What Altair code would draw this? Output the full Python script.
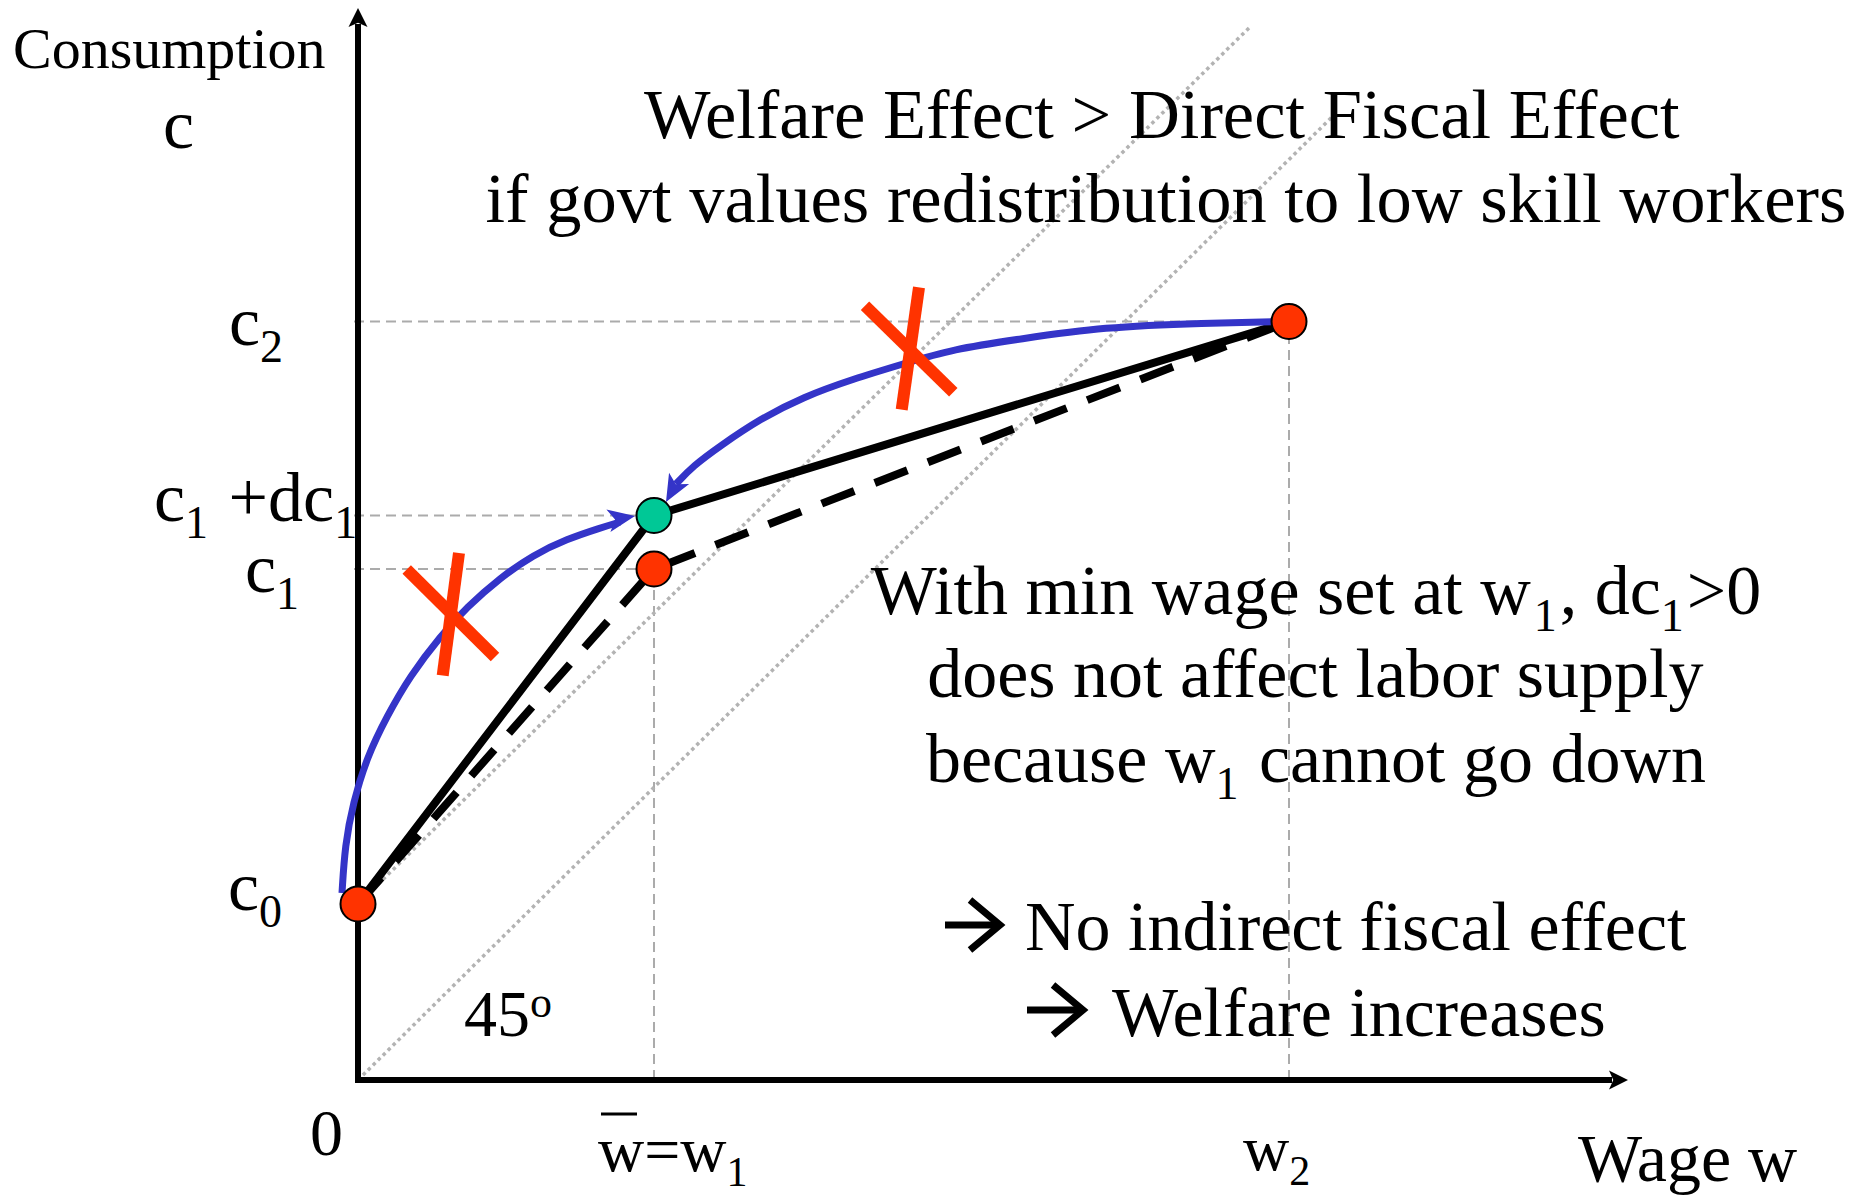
import math
import altair as alt
import pandas as pd

# ---------------- values (units: px from the origin) ----------------
W_NAMES = ["0", "w1", "w2"]
W_VALUES = [0, 296, 931]
C_NAMES = ["c0", "c1", "c1+dc1", "c2"]
C_VALUES = [176, 511, 564.5, 758.5]
W0, W1, W2 = W_VALUES
C0, C1, C1DC, C2 = C_VALUES

Y_AXIS_TIP = 1072
X_AXIS_TIP = 1270

# budget sets: solid (with dc1) and dashed (original)
SOLID_C = [C0, C1DC, C2]
DASHED_C = [C0, C1, C2]

# 45-degree reference lines (start -> end)
DIAG_START_W = [0, 0]
DIAG_START_C = [0, C0]
DIAG_END_W = [977, 893]
DIAG_END_C = [966, 1054]

# blue arrows (curves)
CURVE1_W = [-16, -13, -5, 9, 29, 52, 82, 109, 142, 175, 209, 242, 262]
CURVE1_C = [187, 235, 277, 323, 364, 404, 443.5, 473, 502, 525, 541, 552, 558]
CURVE2_W = [931, 846, 745, 662, 595, 545, 495, 445, 402, 362, 335, 318]
CURVE2_C = [758.5, 757, 753, 741, 731, 716, 701, 683, 661, 634, 614, 596]
ARROW_TIP_W = [277, 308]
ARROW_TIP_C = [564, 578]
ARROW_ANGLE = [350, 119]

# red crosses: two strokes each
CROSS_W1 = [48.7, 101, 507, 561]
CROSS_C1 = [510.5, 527, 774.3, 792.7]
CROSS_W2 = [137, 84.7, 595.3, 543.7]
CROSS_C2 = [423, 404.5, 687.7, 670.3]

# bullet arrows in front of the conclusions (shaft start, tip, centre line)
BULLET_START = [587, 669]
BULLET_TIP = [642, 725]
BULLET_MID = [155, 70]

RED = "#ff3300"
GREEN = "#00c896"
BLUE = "#3434c8"
GUIDE = "#ababab"
FONT = "Liberation Serif"

# ---------------- text layout (Times metrics) ----------------
TIMES = {' ': 250, ',': 250, '>': 564, '=': 564, '+': 564,
         '0': 500, '1': 500, '2': 500, '4': 500, '5': 500,
         'C': 667, 'D': 722, 'E': 611, 'F': 556, 'N': 722, 'W': 944,
         'a': 444, 'b': 500, 'c': 444, 'd': 500, 'e': 444, 'f': 333, 'g': 500,
         'h': 500, 'i': 278, 'k': 500, 'l': 278, 'm': 778, 'n': 500, 'o': 500,
         'p': 500, 'r': 333, 's': 389, 't': 278, 'u': 500, 'v': 500, 'w': 722,
         'y': 500}
SUB_GAP = 3


def width(s, size):
    return sum(TIMES.get(ch, 500) for ch in s) * size / 1000.0


rows = []


def put(txt, x, y, size):
    lead = len(txt) - len(txt.lstrip(" "))
    rows.append({"x": x + width(" " * lead, size), "y": y, "text": txt.strip(), "size": size})


def piece_width(txt, kind, main, sub):
    return width(txt, main) if kind == "n" else width(txt, sub) + SUB_GAP


def run(pieces, x0, base, main=70, sub=46, drop=17, rise=19):
    x = x0
    for txt, kind in pieces:
        if kind == "n":
            size, y = main, base
        elif kind == "s":
            size, y = sub, base - drop
        else:
            size, y = sub, base + rise
        put(txt, x, y, size)
        x += piece_width(txt, kind, main, sub)


def centered(pieces, cx, base, main=70, sub=46):
    total = sum(piece_width(t, k, main, sub) for t, k in pieces)
    run(pieces, cx - total / 2, base, main=main, sub=sub)


put("Consumption", -345, 1012, 58)
put("c", -195, 932, 70)
centered([("Welfare Effect > Direct Fiscal Effect", "n")], 808, 942, main=70.5)
centered([("if govt values redistribution to low skill workers", "n")], 808, 858.5, main=70.5)
centered([("With min wage set at w", "n"), ("1", "s"), (", dc", "n"), ("1", "s"), (">0", "n")], 958, 466)
centered([("does not affect labor supply", "n")], 958, 383)
centered([("because w", "n"), ("1", "s"), (" cannot go down", "n")], 958, 298)
put("No indirect fiscal effect", 667, 130, 70)
put("Welfare increases", 754, 44, 70)
run([("45", "n"), ("o", "p")], 106, 44, main=66, sub=44, rise=19)
put("0", -48, -75, 66)
run([("w=w", "n"), ("1", "s")], 240, -91, main=64, sub=42, drop=15)
run([("w", "n"), ("2", "s")], 885, -90, main=64, sub=42, drop=15)
put("Wage w", 1220, -101, 68)
run([("c", "n"), ("2", "s")], -129, 735)
run([("c", "n"), ("1", "s"), (" +dc", "n"), ("1", "s")], -204, 559)
run([("c", "n"), ("1", "s")], -113, 488)
run([("c", "n"), ("0", "s")], -130, 170)
text_df = pd.DataFrame(rows)

# ---------------- data frames ----------------
guides_df = pd.DataFrame({
    "x": [-4, -4, -4, W1, W2],
    "x2": [W2, W1, W1, W1, W2],
    "y": [C2, C1DC, C1, 0, 0],
    "y2": [C2, C1DC, C1, C1, C2],
})
diag_df = pd.DataFrame({"x": DIAG_START_W, "y": DIAG_START_C, "x2": DIAG_END_W, "y2": DIAG_END_C})
AX_HEAD_LEN = 19
axes_df = pd.DataFrame({
    "x": [0, -3], "y": [-3, 0],
    "x2": [0, X_AXIS_TIP - AX_HEAD_LEN + 3], "y2": [Y_AXIS_TIP - AX_HEAD_LEN + 3, 0],
})
axhead_df = pd.DataFrame({
    "x": [0, X_AXIS_TIP - AX_HEAD_LEN / 2], "y": [Y_AXIS_TIP - AX_HEAD_LEN / 2, 0], "a": [270, 0],
})
solid_df = pd.DataFrame({"x": W_VALUES, "y": SOLID_C})
dashed_df = pd.DataFrame({"x": W_VALUES, "y": DASHED_C})
curves_df = pd.concat([
    pd.DataFrame({"x": CURVE1_W, "y": CURVE1_C, "k": "a"}),
    pd.DataFrame({"x": CURVE2_W, "y": CURVE2_C, "k": "b"}),
])
HEAD_LEN = 27
heads = []
for tw_, tc, ang in zip(ARROW_TIP_W, ARROW_TIP_C, ARROW_ANGLE):
    r = math.radians(ang)
    heads.append({"x": tw_ - HEAD_LEN / 2 * math.cos(r), "y": tc + HEAD_LEN / 2 * math.sin(r), "a": ang})
heads_df = pd.DataFrame(heads)
cross_df = pd.DataFrame({"x": CROSS_W1, "y": CROSS_C1, "x2": CROSS_W2, "y2": CROSS_C2})
dots_df = pd.DataFrame({
    "x": [W0, W1, W1, W2], "y": [C0, C1, C1DC, C2], "col": [RED, RED, GREEN, RED],
})
bar_df = pd.DataFrame({"x": [243], "x2": [279], "y": [-34]})

CHEV_BACK, CHEV_HALF = 30, 25
bullet_rows = []
for i, (xs0, xt, ym) in enumerate(zip(BULLET_START, BULLET_TIP, BULLET_MID)):
    bullet_rows += [
        {"k": f"s{i}", "o": 0, "x": xs0, "y": ym},
        {"k": f"s{i}", "o": 1, "x": xt - 3, "y": ym},
        {"k": f"h{i}", "o": 0, "x": xt - CHEV_BACK, "y": ym + CHEV_HALF},
        {"k": f"h{i}", "o": 1, "x": xt, "y": ym},
        {"k": f"h{i}", "o": 2, "x": xt - CHEV_BACK, "y": ym - CHEV_HALF},
    ]
bullets_df = pd.DataFrame(bullet_rows)

# ---------------- chart ----------------
xs = alt.Scale(domain=[-350, 1491], nice=False, zero=False)
ys = alt.Scale(domain=[-116, 1072], nice=False, zero=False)


def X(f="x"):
    return alt.X(f"{f}:Q", scale=xs, axis=None)


def Y(f="y"):
    return alt.Y(f"{f}:Q", scale=ys, axis=None)


guides = alt.Chart(guides_df).mark_rule(color=GUIDE, strokeWidth=2, strokeDash=[10, 6]).encode(
    x=X(), y=Y(), x2="x2:Q", y2="y2:Q")
diag = alt.Chart(diag_df).mark_rule(color="#b3b3b3", strokeWidth=3.5, strokeDash=[3.5, 3.5]).encode(
    x=X(), y=Y(), x2="x2:Q", y2="y2:Q")
axes = alt.Chart(axes_df).mark_rule(color="black", strokeWidth=6).encode(
    x=X(), y=Y(), x2="x2:Q", y2="y2:Q")
axheads = alt.Chart(axhead_df).mark_point(
    shape="M1,0L-1,-1L-0.55,0L-1,1Z", filled=True, color="black", opacity=1,
    size=AX_HEAD_LEN ** 2).encode(x=X(), y=Y(), angle=alt.Angle("a:Q", scale=None))
dashed = alt.Chart(dashed_df).mark_line(color="black", strokeWidth=8, strokeDash=[35, 22]).encode(
    x=X(), y=Y())
solid = alt.Chart(solid_df).mark_line(color="black", strokeWidth=8).encode(x=X(), y=Y())
curves = alt.Chart(curves_df).mark_line(color=BLUE, strokeWidth=7, interpolate="basis").encode(
    x=X(), y=Y(), detail="k:N")
heads_layer = alt.Chart(heads_df).mark_point(
    shape="M1,0L-1,-0.85L-0.5,0L-1,0.85Z", filled=True, color=BLUE, opacity=1,
    size=HEAD_LEN ** 2).encode(x=X(), y=Y(), angle=alt.Angle("a:Q", scale=None))
crosses = alt.Chart(cross_df).mark_rule(color=RED, strokeWidth=12).encode(
    x=X(), y=Y(), x2="x2:Q", y2="y2:Q")
dots = alt.Chart(dots_df).mark_point(
    shape="circle", filled=True, size=1225, stroke="black", strokeWidth=2, opacity=1).encode(
    x=X(), y=Y(), fill=alt.Fill("col:N", scale=None))
bar = alt.Chart(bar_df).mark_rule(color="black", strokeWidth=3).encode(x=X(), x2="x2:Q", y=Y())
bullets = alt.Chart(bullets_df).mark_line(
    color="black", strokeWidth=7, strokeJoin="miter", strokeCap="butt").encode(
    x=X(), y=Y(), detail="k:N", order="o:Q")
texts = alt.Chart(text_df).mark_text(
    font=FONT, align="left", baseline="alphabetic", color="black").encode(
    x=X(), y=Y(), text="text:N", size=alt.Size("size:Q", scale=None))

chart = alt.layer(
    guides, diag, axes, axheads, dashed, solid, curves, heads_layer, crosses, dots, bar,
    bullets, texts
).properties(
    width=1841, height=1188, autosize=alt.AutoSizeParams(type="none"), padding=0,
    background="white",
).configure_view(stroke=None)

chart.save("out.html", embed_options={"renderer": "svg", "actions": False})
